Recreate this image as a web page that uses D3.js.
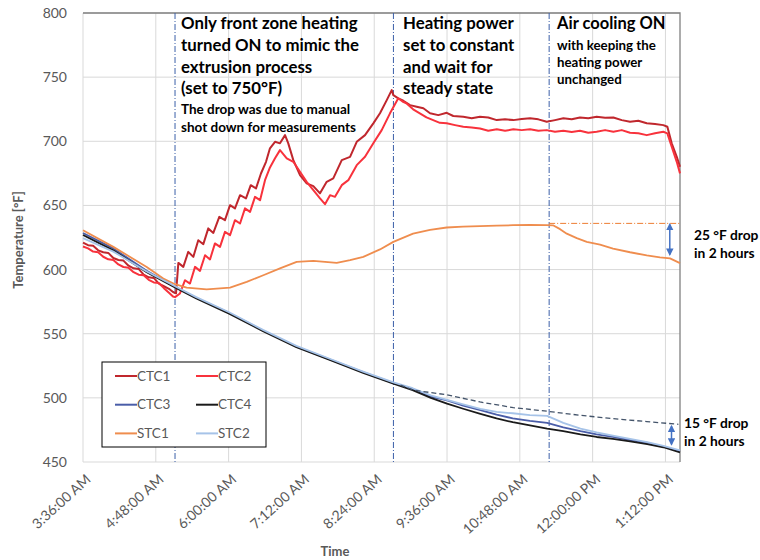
<!DOCTYPE html>
<html>
<head>
<meta charset="utf-8">
<script src="https://cdn.jsdelivr.net/npm/d3@7/dist/d3.min.js"></script>
<style>
  body { margin: 0; background: #fff; }
  text { font-family: Lato, "Open Sans", "DejaVu Sans", sans-serif; }
</style>
</head>
<body>
<svg id="chart" width="760" height="560"></svg>
<script>
// All times are minutes after midnight; temperatures in °F.
const tickMinutes = [216, 288, 360, 432, 504, 576, 648, 720, 792];
const tickLabels = ["3:36:00 AM", "4:48:00 AM", "6:00:00 AM", "7:12:00 AM", "8:24:00 AM",
                    "9:36:00 AM", "10:48:00 AM", "12:00:00 PM", "1:12:00 PM"];
const tempTicks = [450, 500, 550, 600, 650, 700, 750, 800];

const ctc1Time = [216,221,226,231,236,241,246,251,256,261,266,271,276,281,286,291,296,301,305,308,
  310.3,315.2,320.1,325.1,330,335,339.9,344.9,350.8,356.4,361.4,366.3,371.3,377.2,381.9,387.1,392,397,400.9,405.9,
  410.8,415.8,419,424,430.6,437.2,443.8,450.4,457,463.5,471.9,480.1,486.7,494.9,503.1,509.7,516.4,521.3,522.9,527.8,
  532.8,539.4,546,552.6,559.2,567.4,575.7,582.2,592.1,600.4,608.6,616.8,625.2,633.4,641.6,649.9,658.1,666.3,674.6,
  682.8,691,699.3,707.5,715.7,724,732.3,740.5,748.8,757,765.2,773.5,781.7,789.9,793.9,798.2,803.2,806.4];
const ctc1Temp = [621,619,618.5,615,613.5,613,609,607.5,607,603,601,600.5,596,594,593.5,589,587,585,582.5,581.5,
  605.2,602.1,613.8,609.9,622.9,619.8,632.1,628.6,641.1,638.5,650.2,647.7,658,655.5,665.8,663.3,674.9,684,694.5,699.6,
  698.4,704.8,698.4,685.3,673.6,667.2,665.1,659.4,668.4,671.1,685.3,687.9,699.6,704.8,714,721.8,732.1,739.9,736,733.5,
  731.6,728.2,726.9,725.7,721.8,720.4,722.2,719.7,719.1,717.9,719.1,718.6,716.5,717.1,716.5,717.3,717.9,717.1,715.2,
  716.5,717.9,717.1,718.6,717.9,719.1,718.4,718.6,716.5,715.2,716,714,713.4,712.6,711.3,698.4,687.9,680.1];

const ctc2Time = [216,221,226,231,236,241,246,251,256,261,266,271,276,281,286,291,296,301,305,307,
  311.9,316.9,321.8,326.8,331.7,336.7,341.6,346.5,351.5,356.4,361.4,366.3,371.3,376.2,381.2,386.1,391.1,396,400.9,405.9,
  410.8,417.5,424,430.6,437.2,443.8,450.4,455.3,460.3,465.2,471.9,478.4,486.7,494.9,503.1,511.4,519.6,527.8,
  532,535.8,542.5,549.1,555.7,562.3,568.9,575.7,583.9,592.1,600.4,608.6,616.8,625.2,633.4,641.6,649.9,658.1,666.3,674.6,
  682.8,691,699.3,707.5,715.7,724,732.3,740.5,748.8,757,765.2,773.5,781.7,789.9,793.9,798.2,803.2,806.4];
const ctc2Temp = [618,616.5,614,613.5,610,608,607.5,604,602,601.5,598,596,595.5,592,590,589.5,585.5,582,579,578.5,
  581.4,591.7,589.1,602.1,599,611.2,607.9,620.4,617.7,629.4,626.8,638.5,635.9,647.7,645,656.7,654.1,669.7,679.6,686.7,
  693.1,686.7,684,676.2,668.4,661.9,655.5,651,658,656.7,665.8,669.7,681.4,687.9,698.4,708.7,721.8,733.5,
  731,729.6,724.9,721.8,718.6,716.5,714.4,714,712.6,711.3,710.8,710,708.2,709.3,708.2,709.3,708.7,709.3,708.2,708.7,
  707.4,708.2,707.2,708.2,706.6,707.4,708.7,707.4,708.7,706.6,706.2,704.8,706.2,707.4,706.2,695.7,684,675];

const coolTime = [216,246,279,307,328,361,394,427,460,493,523,542,560,576,592,609,625,641,658,675,691,708,724,740,757,774,790,806.4];
const ctc3Temp = [628.5,616.5,599,586.5,578,566,552.5,540,530,520,511.5,507,501,498,494,490.5,487,484,482,480.5,477,474,471.5,469.5,467,465,462,458.5];
const ctc4Temp = [627,615,598,586,577.5,565.5,552,539.5,529.5,519.5,511,506,500,495.5,491.5,487.5,484,481,478.5,476,474,471.5,469.5,468,466,464,461.5,457.5];
const stc2Temp = [624.5,614,598.5,587,578.5,566.5,553,540.5,530.5,520.5,512,507.5,502,498.5,495,491.5,489,488,486.5,486,480.5,476,473,470.5,468,465.5,462.5,459];

const stc1Time = [216,246,279,295.4,307,318.5,338.3,361.4,377.9,394.3,410.8,427.3,443.8,466.9,480.1,493.2,509.7,522.9,
  542.4,559.2,575.7,591.8,608.6,625.2,641.3,658.1,674.6,680.8,687.8,694.4,704.3,714.2,727.3,740.2,757,773.5,786.6,796.5,806.4];
const stc1Temp = [630.7,617.7,602,593,588.6,586,584.5,586,590.4,595.6,600.9,606,606.8,605.2,607.3,609.9,615.7,621.6,
  628,631,632.8,633.5,633.8,634.2,634.6,634.9,634.6,634.5,631.5,628,624.5,621.6,619.5,616.4,613.5,611,609.5,608.7,605];

// Extrapolated pre-cooling trend of the core temperatures
const trendTime = [530,542.7,575.7,608.6,641.6,674.6,707.5,740.5,773.5,804.8];
const trendTemp = [510,506,502.4,496.8,492.4,489.6,486.4,483.8,481.5,479.4];

// Process events (heating on, constant power, air cooling on)
const eventTimes = [307, 523, 677];
const stc1Level = 636;            // STC1 plateau before cooling
const stc1DropArrow = [636, 611]; // 25 °F drop
const coreDropArrow = [478.6, 463]; // 15 °F drop

const seriesNames = ["CTC1", "CTC2", "CTC3", "CTC4", "STC1", "STC2"];
const seriesColors = ["#c0272d", "#f8323c", "#4a5da8", "#1a1a1a", "#ef8d4e", "#a6c3e8"];

const svg = d3.select("#chart");
const L = 83, R = 680, T = 13, B = 462;
const x = d3.scaleLinear().domain([216, 806.4]).range([L, R]);
const y = d3.scaleLinear().domain([450, 800]).range([B, T]);

// gridlines
svg.append("g").selectAll("line").data(tempTicks).join("line")
  .attr("x1", L).attr("x2", R).attr("y1", d => y(d)).attr("y2", d => y(d))
  .attr("stroke", "#d9d9d9").attr("stroke-width", 1);
svg.append("g").selectAll("line").data(tickMinutes).join("line")
  .attr("x1", d => x(d)).attr("x2", d => x(d)).attr("y1", T).attr("y2", B)
  .attr("stroke", "#d9d9d9").attr("stroke-width", 1);
// frame top/right
svg.append("path").attr("d", `M${L},${T}H${R}V${B}`).attr("fill", "none")
  .attr("stroke", "#808080").attr("stroke-width", 1.3);

// y axis labels
const yAxis = d3.axisLeft(y).tickValues(tempTicks).tickSize(0).tickPadding(16);
const gy = svg.append("g").attr("transform", `translate(${L},0)`).call(yAxis);
gy.select(".domain").remove();
gy.selectAll("text").attr("fill", "#595959").style("font-size", "14px").style("font-family", "Lato, sans-serif");

// x axis labels
const xAxis = d3.axisBottom(x).tickValues(tickMinutes).tickFormat((d, i) => tickLabels[i]).tickSize(0);
const gx = svg.append("g").attr("transform", `translate(0,${B})`).call(xAxis);
gx.select(".domain").remove();
gx.selectAll("text")
  .attr("fill", "#595959").style("font-size", "14px").style("font-family", "Lato, sans-serif")
  .attr("text-anchor", "end").attr("y", 0).attr("dy", "0.35em")
  .attr("transform", "translate(5,15) rotate(-42)");

// axis titles
svg.append("text").attr("transform", "translate(23,240) rotate(-90)")
  .attr("text-anchor", "middle").attr("fill", "#595959")
  .style("font-size", "13px").style("font-weight", "bold").text("Temperature [°F]");
svg.append("text").attr("x", 335).attr("y", 556).attr("text-anchor", "middle").attr("fill", "#595959")
  .style("font-size", "13px").style("font-weight", "bold").text("Time");

// event lines
svg.append("g").selectAll("line").data(eventTimes).join("line")
  .attr("x1", d => x(d)).attr("x2", d => x(d)).attr("y1", T).attr("y2", B)
  .attr("stroke", "#3b5fa8").attr("stroke-width", 1).attr("stroke-dasharray", "6 2 1 2");

// series
const line = d3.line().x(d => x(d[0])).y(d => y(d[1]));
const zip = (a, b) => a.map((t, i) => [t, b[i]]);
const series = [
  zip(ctc1Time, ctc1Temp), zip(ctc2Time, ctc2Temp),
  zip(coolTime, ctc3Temp), zip(coolTime, ctc4Temp),
  zip(stc1Time, stc1Temp), zip(coolTime, stc2Temp)
];
const widths = [2, 2, 1.8, 1.8, 1.8, 1.8];
svg.append("g").selectAll("path").data(series).join("path")
  .attr("d", line).attr("fill", "none")
  .attr("stroke", (d, i) => seriesColors[i]).attr("stroke-width", (d, i) => widths[i])
  .attr("stroke-linejoin", "round");

// trend and reference lines
svg.append("path").attr("d", line(zip(trendTime, trendTemp))).attr("fill", "none")
  .attr("stroke", "#44546a").attr("stroke-width", 1.3).attr("stroke-dasharray", "5 3");
svg.append("line").attr("x1", x(eventTimes[2])).attr("x2", R)
  .attr("y1", y(stc1Level)).attr("y2", y(stc1Level))
  .attr("stroke", "#ed7d31").attr("stroke-width", 1).attr("stroke-dasharray", "6 2 1 2");

// double arrows
const defs = svg.append("defs");
defs.append("marker").attr("id", "ah").attr("viewBox", "0 0 10 10").attr("refX", 8).attr("refY", 5)
  .attr("markerWidth", 5).attr("markerHeight", 5).attr("orient", "auto-start-reverse")
  .append("path").attr("d", "M0,0L10,5L0,10Z").attr("fill", "#4472c4");
[[796.3, stc1DropArrow], [798, coreDropArrow]].forEach(([t, v]) => {
  svg.append("line").attr("x1", x(t)).attr("x2", x(t)).attr("y1", y(v[0]) + 1).attr("y2", y(v[1]) - 1)
    .attr("stroke", "#4472c4").attr("stroke-width", 1.5)
    .attr("marker-start", "url(#ah)").attr("marker-end", "url(#ah)");
});

// legend
const lg = svg.append("g");
lg.append("rect").attr("x", 102).attr("y", 362).attr("width", 164).attr("height", 85)
  .attr("fill", "#fff").attr("stroke", "#000").attr("stroke-width", 1);
seriesNames.forEach((n, i) => {
  const cx = 115 + (i % 2) * 81, cy = 376 + Math.floor(i / 2) * 28.7;
  lg.append("line").attr("x1", cx).attr("x2", cx + 22).attr("y1", cy).attr("y2", cy)
    .attr("stroke", seriesColors[i]).attr("stroke-width", 2);
  lg.append("text").attr("x", cx + 22).attr("y", cy).attr("dy", "0.35em")
    .attr("fill", "#595959").style("font-size", "13.5px").text(n);
});

// annotations
const notes = [
  { x: 181, y: 29, size: 16.8, gap: 21.8, lines: ["Only front zone heating", "turned ON to mimic the", "extrusion process", "(set to 750°F)"] },
  { x: 181, y: 113.5, size: 13.5, gap: 18.3, lines: ["The drop was due to manual", "shot down for measurements"] },
  { x: 403, y: 29, size: 16.8, gap: 21.8, lines: ["Heating power", "set to constant", "and wait for", "steady state"] },
  { x: 557, y: 29, size: 16.5, gap: 0, lines: ["Air cooling ON"] },
  { x: 557, y: 50, size: 13.3, gap: 17, lines: ["with keeping the", "heating power", "unchanged"] },
  { x: 694, y: 240, size: 13.8, gap: 18, lines: ["25 °F drop", "in 2 hours"] },
  { x: 684, y: 428, size: 13.8, gap: 18, lines: ["15 °F drop", "in 2 hours"] }
];
notes.forEach(n => {
  const t = svg.append("text").attr("x", n.x).attr("y", n.y).attr("fill", "#000")
    .style("font-size", n.size + "px").style("font-weight", "bold");
  n.lines.forEach((s, i) => t.append("tspan").attr("x", n.x).attr("dy", i ? n.gap : 0).text(s));
});
</script>
</body>
</html>
